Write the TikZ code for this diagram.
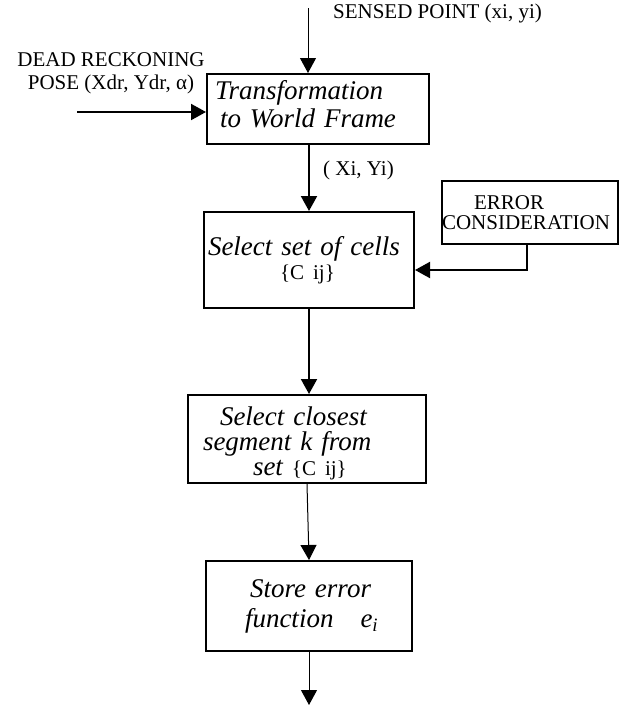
\documentclass[tikz,border=0pt]{standalone}
\usepackage{fontspec}
\setmainfont{Liberation Serif}
\usetikzlibrary{arrows.meta}
\newcommand\bx[1]{\fontsize{27}{#1}\selectfont\itshape}
\newcommand\rg{\fontsize{21}{23}\selectfont\upshape}

\begin{document}
\begin{tikzpicture}[x=1pt,y=-1pt,
  box/.style={draw,line width=2pt,inner sep=0pt,align=left,font=\bx{28}},
  lbl/.style={inner sep=0pt,font=\rg},
  flow/.style={-{Triangle[length=15pt,width=16pt]},line width=2pt},
  thinflow/.style={flow,line width=1pt}]
\useasboundingbox (0,0) rectangle (632,710);
% inputs
\node[lbl] (sensed) at (437.5,13) {SENSED POINT (xi, yi)};
\node[lbl,align=center] (pose) at (111,73.5) {DEAD RECKONING\\POSE (Xdr, Ydr, α)};
\coordinate (sensedin) at (308,8);
\coordinate (posein) at (77,112);
% boxes
\node[box,text width=222pt,minimum height=70pt] (trans) at (318,109) {\hspace*{8pt}Transformation\\\hspace*{13pt}to World Frame\\[-18pt]\mbox{}};
\node[box,text width=210pt,minimum height=96pt,font=\bx{24}] (cells) at (309,260) {\hspace*{4pt}Select set of cells\\\hspace*{76pt}{\rg\{C ij\}}};
\node[box,text width=176pt,minimum height=63pt,font=\rg\fontsize{21}{20}\selectfont] (err) at (530,212.5) {\hspace*{32pt}ERROR\\CONSIDERATION};
\node[box,text width=238pt,minimum height=88pt,font=\bx{25}] (closest) at (307,439) {\mbox{}\\[3pt]\hspace*{32pt}Select closest\\\hspace*{15pt}segment k from\\\hspace*{65pt}set {\rg\{C ij\}}};
\node[box,text width=206pt,minimum height=90pt,font=\bx{30}] (store) at (309,606) {\hspace*{44pt}Store error\\\hspace*{39pt}function\quad e\textsubscript{i}};
\node[lbl,anchor=west] (xiyi) at (323,170) {( Xi, Yi)};
\coordinate (out) at (309,705);
% connectors
\draw[thinflow] (sensedin) -- (sensedin |- trans.north);
\draw[flow] (posein) -- (posein -| trans.west);
\draw[flow] (cells.north |- trans.south) -- (cells.north);
\draw[flow] ([xshift=-3pt]err.south) |- ([yshift=-10pt]cells.east);
\draw[flow] (cells.south) -- (cells.south |- closest.north);
\draw[thinflow] (closest.south) -- (store.north);
\draw[thinflow] (store.south) -- (out);
\end{tikzpicture}
\end{document}
